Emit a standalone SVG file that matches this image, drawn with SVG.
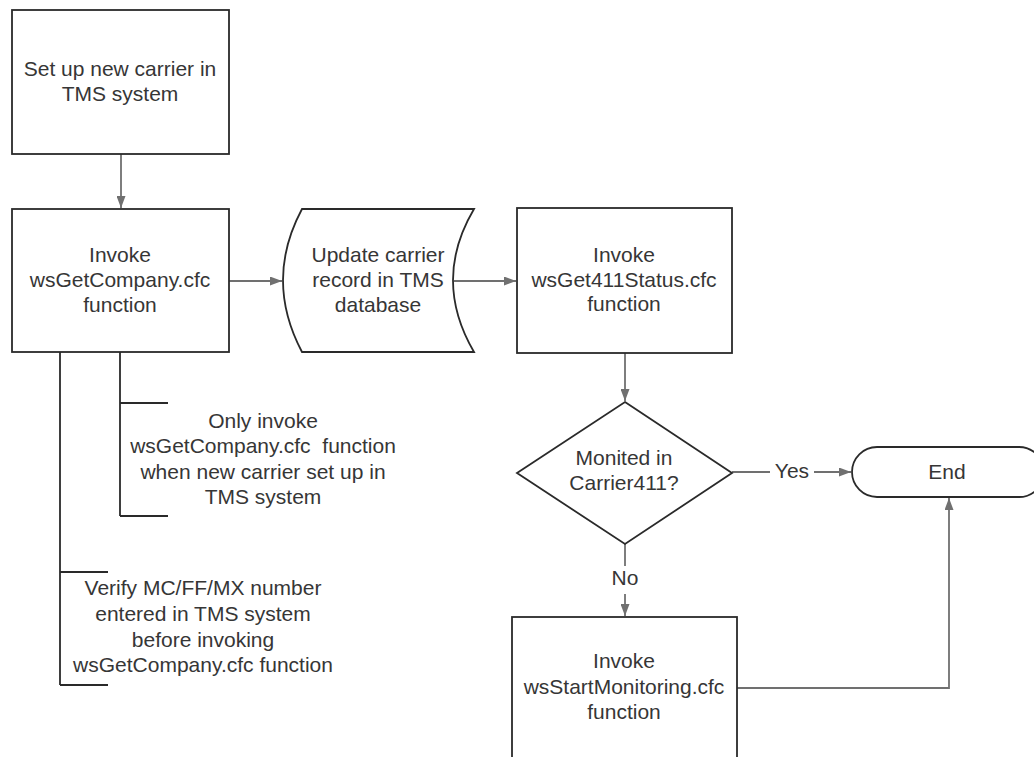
<svg xmlns="http://www.w3.org/2000/svg" width="1034" height="757" viewBox="0 0 1034 757">
<style>
  .box { fill: #ffffff; stroke: #2a2a2a; stroke-width: 1.8; }
  .conn { fill: none; stroke: #707070; stroke-width: 1.8; }
  .ann { fill: none; stroke: #2a2a2a; stroke-width: 1.8; }
  text { font-family: "Liberation Sans", Arial, sans-serif; font-size: 21px; fill: #363636; text-anchor: middle; white-space: pre; }
</style>
<defs>
  <marker id="arr" viewBox="0 0 12 9" refX="12" refY="4.5" markerWidth="12" markerHeight="9" orient="auto" markerUnits="userSpaceOnUse">
    <path d="M0,0 L12,4.5 L0,9 Z" fill="#707070"/>
  </marker>
</defs>
<rect width="1034" height="757" fill="#ffffff"/>

<g id="connectors">
  <line class="conn" x1="121" y1="154" x2="121" y2="208" marker-end="url(#arr)"/>
  <line class="conn" x1="229" y1="281" x2="282" y2="281" marker-end="url(#arr)"/>
  <line class="conn" x1="454" y1="281" x2="516" y2="281" marker-end="url(#arr)"/>
  <line class="conn" x1="625" y1="353" x2="625" y2="401" marker-end="url(#arr)"/>
  <line class="conn" x1="732" y1="472" x2="770" y2="472"/>
  <line class="conn" x1="814" y1="472" x2="851" y2="472" marker-end="url(#arr)"/>
  <line class="conn" x1="625" y1="544" x2="625" y2="566"/>
  <line class="conn" x1="625" y1="594" x2="625" y2="616" marker-end="url(#arr)"/>
  <polyline class="conn" points="737,688 949,688 949,498" marker-end="url(#arr)"/>
</g>

<g id="n1">
  <rect class="box" x="12" y="10" width="217" height="144"/>
  <text x="120" y="76">Set up new carrier in</text>
  <text x="120" y="101">TMS system</text>
</g>

<g id="n2">
  <rect class="box" x="12" y="209" width="217" height="143"/>
  <text x="120" y="262">Invoke</text>
  <text x="120" y="287">wsGetCompany.cfc</text>
  <text x="120" y="312">function</text>
</g>

<g id="n3">
  <path class="box" d="M302,209 L474,209 Q432,280 474,352 L302,352 Q264,280 302,209 Z"/>
  <text x="378" y="262">Update carrier</text>
  <text x="378" y="287">record in TMS</text>
  <text x="378" y="312">database</text>
</g>

<g id="n4">
  <rect class="box" x="517" y="208" width="215" height="145"/>
  <text x="624" y="262">Invoke</text>
  <text x="624" y="287">wsGet411Status.cfc</text>
  <text x="624" y="311">function</text>
</g>

<g id="n5">
  <polygon class="box" points="625,402 732,473 625,544 517,473"/>
  <text x="624" y="465">Monited in</text>
  <text x="624" y="490">Carrier411?</text>
</g>

<g id="n6">
  <rect class="box" x="852" y="447" width="192" height="50" rx="25" ry="25"/>
  <text x="947" y="479">End</text>
</g>

<g id="n7">
  <rect class="box" x="512" y="617" width="225" height="160"/>
  <text x="624" y="668">Invoke</text>
  <text x="624" y="694">wsStartMonitoring.cfc</text>
  <text x="624" y="719">function</text>
</g>

<g id="labels">
  <text x="792" y="478">Yes</text>
  <text x="625" y="585">No</text>
</g>

<g id="annotation1">
  <line class="ann" x1="120" y1="352" x2="120" y2="516"/>
  <polyline class="ann" points="168,403 120,403"/>
  <polyline class="ann" points="120,516 168,516"/>
  <text x="263" y="428">Only invoke</text>
  <text x="263" y="453">wsGetCompany.cfc  function</text>
  <text x="263" y="479">when new carrier set up in</text>
  <text x="263" y="504">TMS system</text>
</g>

<g id="annotation2">
  <line class="ann" x1="60" y1="352" x2="60" y2="685"/>
  <polyline class="ann" points="108,572 60,572"/>
  <polyline class="ann" points="60,685 108,685"/>
  <text x="203" y="595">Verify MC/FF/MX number</text>
  <text x="203" y="621">entered in TMS system</text>
  <text x="203" y="647">before invoking</text>
  <text x="203" y="672">wsGetCompany.cfc function</text>
</g>
</svg>
